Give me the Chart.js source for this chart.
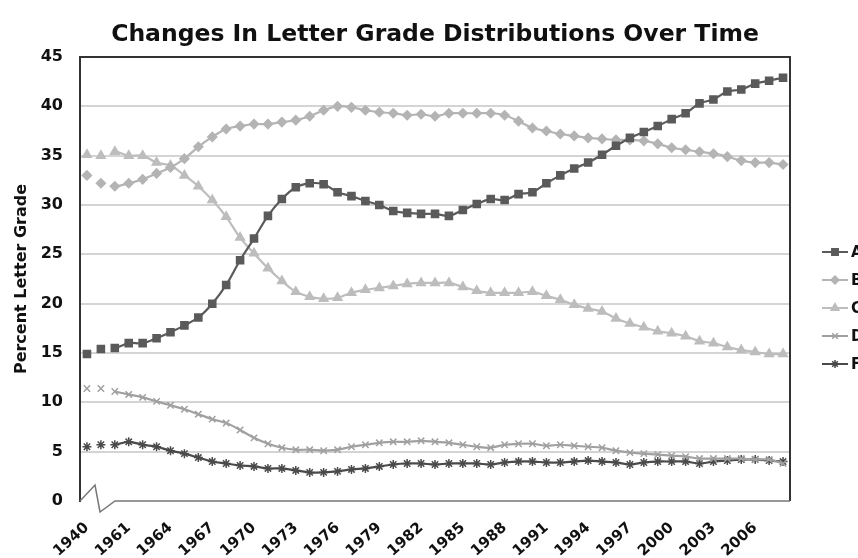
<!DOCTYPE html>
<html>
<head>
<meta charset="utf-8">
<script src="https://cdn.jsdelivr.net/npm/chart.js@4/dist/chart.umd.min.js"></script>
<style>
  html, body { margin: 0; padding: 0; background: #fff; }
  #wrap { width: 858px; height: 558px; }
</style>
</head>
<body>
<div id="wrap"><canvas id="gradeChart"></canvas></div>
<script>
"use strict"

// Year categories (second point is an unlabeled early year before the axis break)
const years = ['1940', '1950'];
for (let y = 1960; y <= 2008; y++) years.push(String(y));

const gradeA = [14.9,15.4,15.5,16.0,16.0,16.5,17.1,17.8,18.6,20.0,
                21.9,24.4,26.6,28.9,30.6,31.8,32.2,32.1,31.3,30.9,
                30.4,30.0,29.4,29.2,29.1,29.1,28.9,29.5,30.1,30.6,
                30.5,31.1,31.3,32.2,33.0,33.7,34.3,35.1,36.0,36.8,
                37.4,38.0,38.7,39.3,40.3,40.7,41.5,41.7,42.3,42.6,42.9];
const gradeB = [33.0,32.2,31.9,32.2,32.6,33.2,33.8,34.7,35.9,36.9,
                37.7,38.0,38.2,38.2,38.4,38.6,39.0,39.6,40.0,39.9,
                39.6,39.4,39.3,39.1,39.2,39.0,39.3,39.3,39.3,39.3,
                39.1,38.5,37.8,37.5,37.2,37.0,36.8,36.7,36.6,36.6,
                36.5,36.2,35.8,35.6,35.4,35.2,34.9,34.5,34.3,34.3,34.1];
const gradeC = [35.1,35.0,35.4,35.0,35.0,34.3,34.0,33.0,31.9,30.5,
                28.8,26.7,25.1,23.6,22.3,21.2,20.7,20.5,20.6,21.1,
                21.4,21.6,21.8,22.0,22.1,22.1,22.1,21.7,21.3,21.1,
                21.1,21.1,21.2,20.8,20.4,19.9,19.5,19.2,18.5,18.0,
                17.6,17.2,17.0,16.7,16.2,16.0,15.6,15.3,15.1,14.9,14.9];
const gradeD = [11.4,11.4,11.1,10.8,10.5,10.1,9.7,9.3,8.8,8.3,
                7.9,7.2,6.4,5.8,5.4,5.2,5.2,5.1,5.2,5.5,
                5.7,5.9,6.0,6.0,6.1,6.0,5.9,5.7,5.5,5.4,
                5.7,5.8,5.8,5.6,5.7,5.6,5.5,5.4,5.1,4.9,
                4.8,4.7,4.6,4.5,4.3,4.3,4.3,4.3,4.2,4.2,3.8];
const gradeF = [5.5,5.7,5.7,6.0,5.7,5.5,5.1,4.8,4.4,4.0,
                3.8,3.6,3.5,3.3,3.3,3.1,2.9,2.9,3.0,3.2,
                3.3,3.5,3.7,3.8,3.8,3.7,3.8,3.8,3.8,3.7,
                3.9,4.0,4.0,3.9,3.9,4.0,4.1,4.0,3.9,3.7,
                3.9,4.0,4.0,4.0,3.8,4.0,4.1,4.2,4.2,4.1,4.0];

const chartTitle = 'Changes In Letter Grade Distributions Over Time';
const FONT = "'DejaVu Sans', Verdana, sans-serif";

/**
 * Skapar ett dataset. De två första punkterna (före axelbrottet) ritas utan linje.
 */
function series(label, data, color, pointStyle, radius) {
    return {
        label: label,
        data: data,
        borderColor: color,
        backgroundColor: color,
        pointStyle: pointStyle,
        pointRadius: radius,
        pointBorderWidth: 1.5,
        borderWidth: 2.2,
        tension: 0.35,
        segment: {
            borderColor: ctx => ctx.p0DataIndex < 2 ? 'rgba(0,0,0,0)' : undefined
        }
    };
}

// Rutan runt ritytan, x-axeln med brott, rubriken och legenden till höger
const framePlugin = {
    id: 'frame',
    beforeDatasetsDraw(chart) {
        const { ctx, chartArea } = chart;
        const y0 = chart.scales.y.getPixelForValue(0);
        ctx.save();
        ctx.strokeStyle = '#333';
        ctx.lineWidth = 2;
        ctx.beginPath();
        ctx.moveTo(chartArea.left, chartArea.top);
        ctx.lineTo(chartArea.right, chartArea.top);
        ctx.lineTo(chartArea.right, y0);
        ctx.stroke();

        ctx.strokeStyle = '#777';
        ctx.lineWidth = 1.5;
        ctx.beginPath();
        ctx.moveTo(chartArea.left, y0);
        ctx.lineTo(chartArea.left + 15, y0 - 16);
        ctx.lineTo(chartArea.left + 20, y0 + 11);
        ctx.lineTo(chartArea.left + 35, y0);
        ctx.lineTo(chartArea.right, y0);
        ctx.stroke();
        ctx.restore();
    },
    afterDraw(chart) {
        const { ctx, chartArea } = chart;
        ctx.save();
        // Rubrik centrerad över ritytan
        ctx.fillStyle = '#111';
        ctx.font = "bold 23.5px " + FONT;
        ctx.textAlign = 'center';
        ctx.textBaseline = 'middle';
        ctx.fillText(chartTitle, (chartArea.left + chartArea.right) / 2, chartArea.top - 22);

        const x = chartArea.right + 32;
        let y = chartArea.top + 195;
        chart.data.datasets.forEach(ds => {
            ctx.strokeStyle = ds.borderColor;
            ctx.lineWidth = 2;
            ctx.beginPath();
            ctx.moveTo(x, y);
            ctx.lineTo(x + 26, y);
            ctx.stroke();
            if (Chart.helpers && Chart.helpers.drawPoint) {
                ctx.fillStyle = ds.backgroundColor;
                ctx.lineWidth = 1.5;
                Chart.helpers.drawPoint(ctx, { pointStyle: ds.pointStyle, radius: ds.pointRadius - 0.5, rotation: 0, borderWidth: 1.5 }, x + 13, y);
            }
            ctx.fillStyle = '#111';
            ctx.font = "bold 15px " + FONT;
            ctx.textBaseline = 'middle';
            ctx.textAlign = 'left';
            ctx.fillText(ds.label, x + 29, y + 1);
            y += 28;
        });
        ctx.restore();
    }
};

function createChart() {
    const ctx = document.getElementById('gradeChart').getContext('2d');
    new Chart(ctx, {
        type: 'line',
        data: {
            labels: years,
            datasets: [
                series('A', gradeA, '#5a5a5a', 'rect', 5),
                series('B', gradeB, '#b4b4b4', 'rectRot', 4.5),
                series('C', gradeC, '#bdbdbd', 'triangle', 5),
                series('D', gradeD, '#a0a0a0', 'crossRot', 4.5),
                series('F', gradeF, '#4a4a4a', 'star', 4.5)
            ]
        },
        options: {
            responsive: true,
            maintainAspectRatio: false,
            animation: false,
            layout: { padding: { left: 0, right: 68, top: 57, bottom: 0 } },
            plugins: {
                legend: { display: false },
                tooltip: { enabled: false },
                title: { display: false }
            },
            scales: {
                x: {
                    offset: true,
                    grid: { display: false },
                    border: { display: false },
                    afterFit(scale) { scale.height = 57; },
                    ticks: {
                        autoSkip: false,
                        maxRotation: 42,
                        minRotation: 42,
                        padding: 10,
                        color: '#111',
                        font: { family: FONT, size: 15, weight: 'bold' },
                        callback: (val, i) => i % 3 === 0 ? years[i] : ''
                    }
                },
                y: {
                    min: 0,
                    max: 45,
                    afterFit(scale) { scale.width = 80; },
                    border: { display: true, color: '#333', width: 2 },
                    grid: {
                        drawTicks: false,
                        lineWidth: 2,
                        color: c => (c.tick.value === 0 || c.tick.value === 45) ? 'rgba(0,0,0,0)' : '#d4d4d4'
                    },
                    ticks: {
                        stepSize: 5,
                        padding: 17,
                        color: '#111',
                        font: { family: FONT, size: 16, weight: 'bold' }
                    },
                    title: {
                        display: true,
                        text: 'Percent Letter Grade',
                        color: '#111',
                        font: { family: FONT, size: 16, weight: 'bold' },
                        padding: { top: 12, bottom: 0 }
                    }
                }
            }
        },
        plugins: [framePlugin]
    });
}

createChart();
</script>
</body>
</html>
